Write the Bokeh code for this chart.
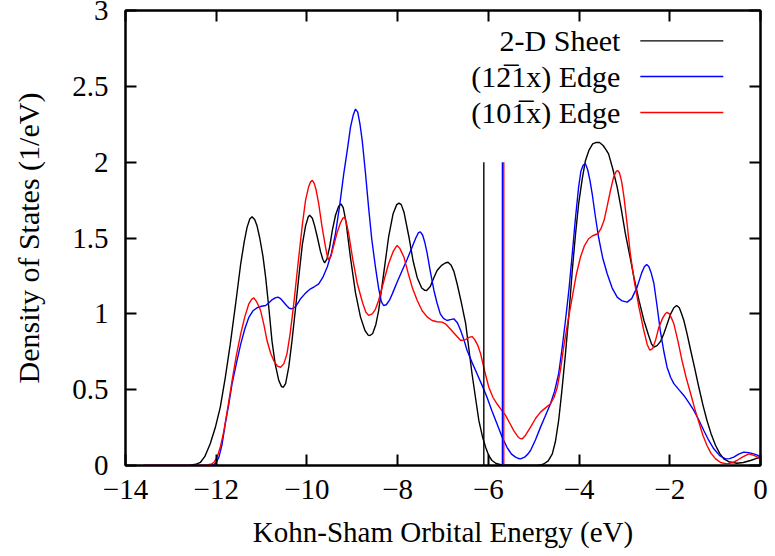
from bokeh.plotting import figure
from bokeh.models import Range1d, FixedTicker, LinearAxis, Label
from bokeh.embed import file_html
from bokeh.resources import INLINE

# Density of states vs. Kohn-Sham orbital energy (eV)
e_sheet = [-13.6, -12.6, -12.45, -12.35, -12.25, -12.13, -12.02, -11.91, -11.80, -11.69, -11.57, -11.46,
           -11.38, -11.32, -11.26, -11.21, -11.15, -11.10, -11.04, -10.97, -10.91, -10.84, -10.77, -10.70,
           -10.62, -10.56, -10.52, -10.47, -10.40, -10.33, -10.25, -10.17, -10.10, -10.03, -9.97, -9.94,
           -9.88, -9.83, -9.77, -9.70, -9.65, -9.61, -9.56, -9.50, -9.44, -9.37, -9.30, -9.25,
           -9.20, -9.14, -9.04, -8.93, -8.82, -8.72, -8.65, -8.61, -8.55, -8.48, -8.42, -8.31,
           -8.20, -8.10, -8.02, -7.97, -7.92, -7.86, -7.75, -7.66, -7.57, -7.47, -7.40, -7.36,
           -7.28, -7.20, -7.13, -7.03, -6.95, -6.89, -6.82, -6.76, -6.69, -6.60, -6.50, -6.43,
           -6.36, -6.28, -6.21, -6.13, -6.06, -5.99, -5.92, -5.83, -5.70, -5.2, -4.9, -4.83,
           -4.78, -4.68, -4.59, -4.52, -4.45, -4.38, -4.30, -4.22, -4.15, -4.08, -4.01, -3.93,
           -3.86, -3.78, -3.70, -3.62, -3.55, -3.47, -3.40, -3.35, -3.26, -3.16, -3.07, -2.98,
           -2.88, -2.79, -2.68, -2.57, -2.47, -2.40, -2.35, -2.28, -2.20, -2.13, -2.05, -1.98,
           -1.91, -1.85, -1.79, -1.74, -1.69, -1.62, -1.54, -1.45, -1.36, -1.27, -1.18, -1.09,
           -0.99, -0.90, -0.81, -0.70, -0.52, -0.38, -0.22, -0.10, 0.0]
dos_sheet = [0.0, 0.0, 0.008, 0.02, 0.06, 0.145, 0.25, 0.385, 0.58, 0.80, 1.07, 1.33,
             1.48, 1.57, 1.625, 1.64, 1.62, 1.58, 1.50, 1.38, 1.24, 1.04, 0.82, 0.67,
             0.56, 0.52, 0.516, 0.54, 0.65, 0.82, 1.04, 1.27, 1.46, 1.58, 1.64, 1.65,
             1.63, 1.58, 1.505, 1.41, 1.36, 1.336, 1.36, 1.44, 1.55, 1.65, 1.71, 1.725,
             1.70, 1.61, 1.37, 1.14, 0.98, 0.89, 0.86, 0.857, 0.87, 0.93, 1.02, 1.26,
             1.505, 1.66, 1.72, 1.73, 1.72, 1.67, 1.505, 1.35, 1.24, 1.17, 1.155, 1.154,
             1.18, 1.24, 1.286, 1.32, 1.335, 1.34, 1.32, 1.28, 1.20, 1.08, 0.935, 0.77,
             0.605, 0.44, 0.297, 0.19, 0.12, 0.065, 0.033, 0.013, 0.003, 0.0, 0.002, 0.006,
             0.01, 0.03, 0.077, 0.16, 0.297, 0.49, 0.736, 1.01, 1.286, 1.52, 1.725, 1.89,
             2.01, 2.08, 2.12, 2.13, 2.13, 2.11, 2.08, 2.055, 1.96, 1.835, 1.69, 1.53,
             1.38, 1.24, 1.09, 0.956, 0.86, 0.80, 0.78, 0.79, 0.82, 0.87, 0.94, 1.0,
             1.04, 1.055, 1.04, 1.00, 0.956, 0.87, 0.76, 0.64, 0.516, 0.40, 0.297, 0.21,
             0.132, 0.08, 0.044, 0.025, 0.015, 0.02, 0.033, 0.045, 0.055]

e_121 = [-13.6, -12.2, -12.1, -12.06, -12.00, -11.94, -11.87, -11.80, -11.72, -11.65, -11.55, -11.46,
         -11.37, -11.28, -11.19, -11.10, -11.00, -10.91, -10.85, -10.78, -10.70, -10.64, -10.58, -10.52,
         -10.45, -10.39, -10.33, -10.26, -10.20, -10.14, -10.05, -9.98, -9.92, -9.83, -9.74, -9.65,
         -9.55, -9.46, -9.37, -9.28, -9.19, -9.11, -9.04, -8.98, -8.93, -8.88, -8.83, -8.78,
         -8.71, -8.64, -8.57, -8.49, -8.42, -8.36, -8.31, -8.25, -8.18, -8.12, -8.01, -7.90,
         -7.79, -7.68, -7.60, -7.54, -7.50, -7.45, -7.40, -7.35, -7.28, -7.20, -7.13, -7.06,
         -6.99, -6.91, -6.84, -6.76, -6.68, -6.61, -6.54, -6.47, -6.36, -6.25, -6.14, -6.03,
         -5.92, -5.81, -5.70, -5.59, -5.49, -5.40, -5.33, -5.29, -5.20, -5.13, -5.07, -4.96,
         -4.85, -4.74, -4.63, -4.54, -4.45, -4.38, -4.30, -4.22, -4.15, -4.08, -4.01, -3.96,
         -3.91, -3.86, -3.81, -3.76, -3.71, -3.64, -3.57, -3.48, -3.38, -3.27, -3.16, -3.05,
         -2.94, -2.84, -2.72, -2.62, -2.56, -2.51, -2.46, -2.41, -2.35, -2.28, -2.21, -2.13,
         -2.06, -1.98, -1.91, -1.80, -1.69, -1.58, -1.47, -1.36, -1.25, -1.14, -1.03, -0.90,
         -0.77, -0.68, -0.59, -0.48, -0.37, -0.26, -0.15, -0.07, 0.0]
dos_121 = [0.0, 0.0, 0.003, 0.005, 0.02, 0.055, 0.14, 0.275, 0.41, 0.54, 0.68, 0.80,
           0.90, 0.977, 1.02, 1.04, 1.05, 1.055, 1.07, 1.09, 1.105, 1.11, 1.10, 1.08,
           1.055, 1.037, 1.033, 1.045, 1.07, 1.10, 1.13, 1.15, 1.165, 1.18, 1.198, 1.24,
           1.31, 1.40, 1.53, 1.71, 1.92, 2.08, 2.23, 2.31, 2.35, 2.33, 2.25, 2.14,
           1.93, 1.70, 1.49, 1.31, 1.17, 1.08, 1.055, 1.06, 1.09, 1.13, 1.21, 1.286,
           1.36, 1.44, 1.50, 1.535, 1.54, 1.52, 1.47, 1.40, 1.28, 1.154, 1.07, 1.0,
           0.97, 0.956, 0.962, 0.967, 0.94, 0.89, 0.83, 0.76, 0.68, 0.605, 0.53, 0.45,
           0.36, 0.275, 0.19, 0.12, 0.075, 0.055, 0.046, 0.044, 0.055, 0.075, 0.099, 0.17,
           0.253, 0.33, 0.407, 0.49, 0.605, 0.76, 0.956, 1.17, 1.396, 1.63, 1.835, 1.94,
           1.98, 1.99, 1.95, 1.88, 1.79, 1.64, 1.505, 1.37, 1.264, 1.17, 1.11, 1.085,
           1.077, 1.10, 1.176, 1.27, 1.31, 1.325, 1.31, 1.27, 1.20, 1.05, 0.89, 0.75,
           0.648, 0.58, 0.54, 0.50, 0.462, 0.415, 0.363, 0.30, 0.231, 0.165, 0.11, 0.065,
           0.044, 0.045, 0.055, 0.075, 0.088, 0.085, 0.077, 0.068, 0.055]

e_101 = [-13.6, -12.3, -12.2, -12.1, -12.04, -11.98, -11.91, -11.83, -11.74, -11.65, -11.56, -11.46,
         -11.37, -11.28, -11.22, -11.17, -11.11, -11.06, -11.02, -10.95, -10.88, -10.80, -10.73, -10.65,
         -10.58, -10.51, -10.44, -10.37, -10.29, -10.20, -10.10, -10.03, -9.96, -9.92, -9.88, -9.84,
         -9.80, -9.74, -9.67, -9.59, -9.55, -9.52, -9.47, -9.40, -9.33, -9.26, -9.21, -9.17,
         -9.13, -9.08, -8.99, -8.89, -8.77, -8.70, -8.64, -8.56, -8.49, -8.42, -8.31, -8.20,
         -8.10, -8.04, -8.01, -7.95, -7.86, -7.77, -7.68, -7.57, -7.46, -7.35, -7.24, -7.13,
         -7.02, -6.93, -6.84, -6.72, -6.61, -6.50, -6.43, -6.36, -6.30, -6.23, -6.17, -6.08,
         -5.99, -5.90, -5.81, -5.72, -5.62, -5.53, -5.44, -5.35, -5.30, -5.25, -5.18, -5.07,
         -4.96, -4.85, -4.74, -4.63, -4.55, -4.48, -4.41, -4.34, -4.24, -4.15, -4.06, -3.97,
         -3.88, -3.79, -3.70, -3.59, -3.52, -3.45, -3.38, -3.31, -3.24, -3.18, -3.15, -3.11,
         -3.06, -3.01, -2.94, -2.87, -2.78, -2.68, -2.58, -2.50, -2.44, -2.38, -2.31, -2.24,
         -2.16, -2.10, -2.06, -2.01, -1.96, -1.91, -1.82, -1.73, -1.64, -1.54, -1.45, -1.36,
         -1.27, -1.18, -1.09, -0.99, -0.88, -0.74, -0.63, -0.52, -0.40, -0.26, -0.13, 0.0]
dos_101 = [0.0, 0.0, 0.004, 0.01, 0.025, 0.055, 0.12, 0.23, 0.39, 0.56, 0.72, 0.868,
           0.98, 1.066, 1.095, 1.105, 1.08, 1.05, 1.02, 0.93, 0.824, 0.74, 0.69, 0.655,
           0.648, 0.67, 0.736, 0.87, 1.066, 1.32, 1.59, 1.75, 1.84, 1.87, 1.88, 1.86,
           1.82, 1.725, 1.58, 1.44, 1.38, 1.356, 1.38, 1.46, 1.54, 1.60, 1.63, 1.637,
           1.60, 1.53, 1.36, 1.20, 1.07, 1.01, 0.99, 1.00, 1.03, 1.088, 1.21, 1.33,
           1.41, 1.44, 1.45, 1.43, 1.373, 1.27, 1.176, 1.09, 1.02, 0.98, 0.956, 0.948,
           0.945, 0.93, 0.90, 0.86, 0.824, 0.83, 0.845, 0.85, 0.83, 0.79, 0.736, 0.62,
           0.516, 0.45, 0.407, 0.37, 0.33, 0.28, 0.23, 0.19, 0.178, 0.176, 0.20, 0.253,
           0.31, 0.352, 0.38, 0.407, 0.45, 0.516, 0.63, 0.78, 0.96, 1.11, 1.26, 1.373,
           1.45, 1.495, 1.515, 1.528, 1.56, 1.615, 1.71, 1.81, 1.90, 1.94, 1.945, 1.93,
           1.87, 1.77, 1.59, 1.396, 1.21, 1.044, 0.90, 0.80, 0.76, 0.77, 0.83, 0.912,
           0.97, 1.0, 1.01, 1.0, 0.97, 0.934, 0.82, 0.692, 0.58, 0.473, 0.375, 0.286,
           0.20, 0.132, 0.08, 0.044, 0.02, 0.011, 0.018, 0.033, 0.055, 0.077, 0.065, 0.044]

# Fermi levels (eV) and the height of their markers
fermi_sheet = -6.10
fermi_121 = -5.69
fermi_101 = -5.66
fermi_marker_height = 2.0

series_names = ["2-D Sheet", "(12\u03051x) Edge", "(101\u0305x) Edge"]
series_colors = ["black", "#0000ff", "#ff0000"]

x_ticks = [-14, -12, -10, -8, -6, -4, -2, 0]
y_ticks = [0, 0.5, 1, 1.5, 2, 2.5, 3]
y_tick_labels = ["0", "0.5", "1", "1.5", "2", "2.5", "3"]

FONT = "Liberation Serif"

p = figure(width=775, height=556, x_range=Range1d(-14, 0), y_range=Range1d(0, 3),
           output_backend="svg", toolbar_location=None,
           min_border_left=125, min_border_right=15, min_border_top=10, min_border_bottom=91)
p.grid.visible = False
p.outline_line_color = "black"
p.outline_line_width = 2

p.xaxis.ticker = FixedTicker(ticks=x_ticks)
p.yaxis.ticker = FixedTicker(ticks=y_ticks)
p.yaxis.major_label_overrides = {t: s for t, s in zip(y_ticks, y_tick_labels)}
p.xaxis.axis_label = "Kohn-Sham Orbital Energy (eV)"
p.yaxis.axis_label = "Density of States (1/eV)"

for ax in (p.xaxis[0], p.yaxis[0]):
    ax.axis_line_width = 2
    ax.major_tick_in = 11
    ax.major_tick_out = 0
    ax.major_tick_line_width = 2
    ax.minor_tick_in = 0
    ax.minor_tick_out = 0
    ax.major_label_text_font = FONT
    ax.major_label_text_font_size = "29px"
    ax.major_label_text_color = "black"
    ax.axis_label_text_font = FONT
    ax.axis_label_text_font_style = "normal"
    ax.axis_label_text_color = "black"
p.xaxis.axis_label_text_font_size = "29px"
p.yaxis.axis_label_text_font_size = "30px"
p.xaxis.major_label_standoff = 14
p.xaxis.axis_label_standoff = 14
p.yaxis.major_label_standoff = 17
p.yaxis.axis_label_standoff = 24

# mirrored ticks on top and right (unlabelled)
top = LinearAxis(ticker=FixedTicker(ticks=x_ticks),
                 major_label_overrides={t: "" for t in x_ticks}, major_label_text_font_size="10px",
                 major_tick_in=11, major_tick_out=0, minor_tick_in=0, minor_tick_out=0,
                 axis_line_width=2, major_tick_line_width=2, major_label_standoff=0)
right = LinearAxis(ticker=FixedTicker(ticks=y_ticks),
                   major_label_overrides={t: "" for t in y_ticks}, major_label_text_font_size="10px",
                   major_tick_in=11, major_tick_out=0, minor_tick_in=0, minor_tick_out=0,
                   axis_line_width=2, major_tick_line_width=2, major_label_standoff=0)
p.add_layout(top, "above")
p.add_layout(right, "right")

# DOS curves
for xs, ys, c in [(e_sheet, dos_sheet, series_colors[0]),
                  (e_121, dos_121, series_colors[1]),
                  (e_101, dos_101, series_colors[2])]:
    p.line(xs, ys, line_color=c, line_width=1.4)

# Fermi level markers
for ef, c in [(fermi_sheet, series_colors[0]), (fermi_121, series_colors[1]),
              (fermi_101, series_colors[2])]:
    p.segment(x0=[ef], y0=[0], x1=[ef], y1=[fermi_marker_height], line_color=c, line_width=1.4)

# gnuplot-style key: right-aligned text, sample line to its right
key_y = [2.80, 2.565, 2.327]
for name, c, ky in zip(series_names, series_colors, key_y):
    p.add_layout(Label(x=-3.09, y=ky, text=name, text_align="right", text_baseline="middle",
                       text_font=FONT, text_font_size="30px", text_color="black"))
    p.segment(x0=[-2.65], y0=[ky], x1=[-0.82], y1=[ky], line_color=c, line_width=1.4)

open("out.html", "w").write(file_html(p, INLINE))
